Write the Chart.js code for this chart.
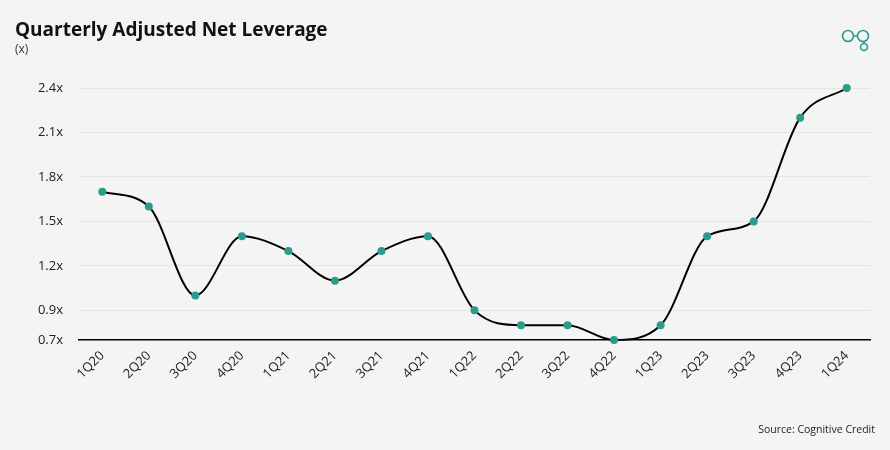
<!DOCTYPE html>
<html><head><meta charset="utf-8">
<script src="https://cdn.jsdelivr.net/npm/chart.js@4"></script>
<style>html,body{margin:0;padding:0;background:#f4f4f4;}#wrap{width:890px;height:450px;position:relative;}</style>
</head><body><div id="wrap"><canvas id="c" width="890" height="450"></canvas></div>
<script>
const categories = ["1Q20","2Q20","3Q20","4Q20","1Q21","2Q21","3Q21","4Q21","1Q22","2Q22","3Q22","4Q22","1Q23","2Q23","3Q23","4Q23","1Q24"];
const leverage = [1.7,1.6,1.0,1.4,1.3,1.1,1.3,1.4,0.9,0.8,0.8,0.7,0.8,1.4,1.5,2.2,2.4];
const yTicks = [0.7,0.9,1.2,1.5,1.8,2.1,2.4];
const titleText = "Quarterly Adjusted Net Leverage";
const subtitleText = "(x)";
const sourceText = "Source: Cognitive Credit";
const FONT = "'Open Sans', sans-serif";
const TEAL = "#2a9d8a";

const decor = {
  id: 'decor',
  beforeDraw(chart) {
    const ctx = chart.ctx;
    ctx.save();
    ctx.fillStyle = '#f4f4f4';
    ctx.fillRect(0, 0, chart.width, chart.height);
    ctx.restore();
  },
  afterDraw(chart) {
    const ctx = chart.ctx;
    ctx.save();
    ctx.fillStyle = '#111';
    ctx.textBaseline = 'alphabetic';
    ctx.textAlign = 'left';
    ctx.font = "700 19px " + FONT;
    ctx.fillText(titleText, 15, 36);
    ctx.font = "400 12px " + FONT;
    ctx.fillStyle = '#333';
    ctx.fillText(subtitleText, 15, 53);
    ctx.font = "400 10.5px " + FONT;
    ctx.textAlign = 'right';
    ctx.fillStyle = '#222';
    ctx.fillText(sourceText, 875, 433);
    // logo
    ctx.strokeStyle = TEAL;
    ctx.lineWidth = 1.6;
    ctx.beginPath(); ctx.arc(848, 36, 5.5, 0, Math.PI*2); ctx.stroke();
    ctx.beginPath(); ctx.arc(863, 36, 5.5, 0, Math.PI*2); ctx.stroke();
    ctx.beginPath(); ctx.moveTo(853.5, 36); ctx.lineTo(857.5, 36); ctx.stroke();
    ctx.beginPath(); ctx.moveTo(864, 41.5); ctx.lineTo(864, 43.5); ctx.stroke();
    ctx.beginPath(); ctx.arc(864, 47, 3.5, 0, Math.PI*2); ctx.stroke();
    ctx.restore();
  }
};

new Chart(document.getElementById('c'), {
  type: 'line',
  data: {
    labels: categories,
    datasets: [{
      data: leverage,
      borderColor: '#000',
      borderWidth: 2,
      cubicInterpolationMode: 'monotone',
      pointRadius: 4,
      pointBackgroundColor: TEAL,
      pointBorderColor: TEAL,
      pointBorderWidth: 0,
      fill: false,
      clip: false
    }]
  },
  options: {
    responsive: false,
    animation: false,
    devicePixelRatio: 1,
    layout: { padding: { top: 88, right: 20, bottom: 20, left: 0 } },
    plugins: { legend: { display: false }, title: { display: false }, tooltip: { enabled: false } },
    scales: {
      x: {
        offset: true,
        afterFit(s) { s.height = 90; },
        grid: { display: false, drawTicks: false },
        border: { display: true, color: '#000', width: 1.5, z: -1 },
        ticks: { maxRotation: 45, minRotation: 45, color: '#222', padding: 8, font: { family: FONT, size: 13 } }
      },
      y: {
        min: 0.7, max: 2.4,
        afterFit(s) { s.width = 79; },
        afterBuildTicks(s) { s.ticks = yTicks.map(v => ({ value: v })); },
        grid: { color: ctx => (ctx.tick && ctx.tick.value === 0.7) ? 'rgba(0,0,0,0)' : '#e4e4e4', drawTicks: false, lineWidth: 1 },
        border: { display: false },
        ticks: { color: '#222', padding: 16, font: { family: FONT, size: 13 }, callback: v => v.toFixed(1) + 'x' }
      }
    }
  },
  plugins: [decor]
});
</script></body></html>
